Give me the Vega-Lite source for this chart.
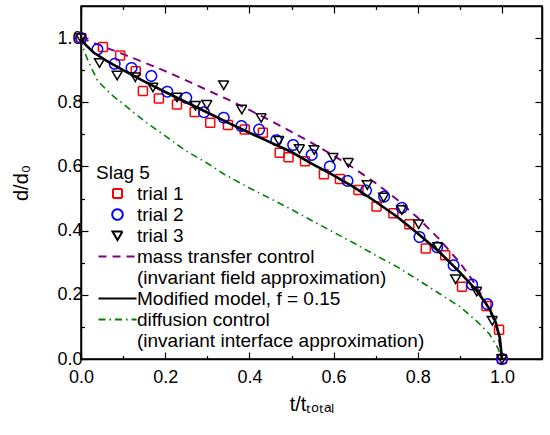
{
  "$schema": "https://vega.github.io/schema/vega-lite/v6.json",
  "width": 461,
  "height": 353,
  "autosize": "none",
  "padding": {"left": 81, "top": 6, "right": 8, "bottom": 76},
  "background": "white",
  "config": {
    "view": {"stroke": "black", "strokeWidth": 1.5},
    "font": "Liberation Sans",
    "axis": {
      "grid": false,
      "domainColor": "black",
      "domainWidth": 1.5,
      "tickColor": "black",
      "tickWidth": 1.2,
      "labelFont": "Liberation Sans",
      "labelFontSize": 18,
      "labelColor": "black",
      "labelFlush": false,
      "titleFont": "Liberation Sans",
      "titleFontSize": 20,
      "titleFontWeight": "normal",
      "titleColor": "black"
    },
    "legend": {
      "padding": 0,
      "titleFontSize": 19,
      "titleFontWeight": "normal",
      "titleColor": "black",
      "titleFont": "Liberation Sans",
      "titlePadding": 1,
      "labelFontSize": 19,
      "labelFont": "Liberation Sans",
      "labelColor": "black",
      "labelLimit": 400,
      "labelOffset": 10,
      "symbolSize": 100,
      "symbolStrokeWidth": 2,
      "symbolOffset": 12,
      "rowPadding": 1
    }
  },
  "datasets": {
    "pts": [
      {"series": "trial 1", "t": 0.0, "d": 1.0},
      {"series": "trial 1", "t": 0.052, "d": 0.972},
      {"series": "trial 1", "t": 0.093, "d": 0.946},
      {"series": "trial 1", "t": 0.13, "d": 0.897},
      {"series": "trial 1", "t": 0.147, "d": 0.835},
      {"series": "trial 1", "t": 0.185, "d": 0.812},
      {"series": "trial 1", "t": 0.228, "d": 0.793},
      {"series": "trial 1", "t": 0.27, "d": 0.77},
      {"series": "trial 1", "t": 0.307, "d": 0.736},
      {"series": "trial 1", "t": 0.349, "d": 0.729},
      {"series": "trial 1", "t": 0.389, "d": 0.715},
      {"series": "trial 1", "t": 0.432, "d": 0.705},
      {"series": "trial 1", "t": 0.472, "d": 0.643},
      {"series": "trial 1", "t": 0.493, "d": 0.629},
      {"series": "trial 1", "t": 0.532, "d": 0.616},
      {"series": "trial 1", "t": 0.577, "d": 0.576},
      {"series": "trial 1", "t": 0.615, "d": 0.561},
      {"series": "trial 1", "t": 0.659, "d": 0.527},
      {"series": "trial 1", "t": 0.702, "d": 0.475},
      {"series": "trial 1", "t": 0.742, "d": 0.454},
      {"series": "trial 1", "t": 0.78, "d": 0.42},
      {"series": "trial 1", "t": 0.819, "d": 0.344},
      {"series": "trial 1", "t": 0.865, "d": 0.323},
      {"series": "trial 1", "t": 0.905, "d": 0.225},
      {"series": "trial 1", "t": 0.963, "d": 0.165},
      {"series": "trial 1", "t": 0.993, "d": 0.091},
      {"series": "trial 1", "t": 1.0, "d": 0.0},
      {"series": "trial 2", "t": 0.0, "d": 1.0},
      {"series": "trial 2", "t": 0.039, "d": 0.965},
      {"series": "trial 2", "t": 0.08, "d": 0.92},
      {"series": "trial 2", "t": 0.12, "d": 0.907},
      {"series": "trial 2", "t": 0.167, "d": 0.882},
      {"series": "trial 2", "t": 0.205, "d": 0.833},
      {"series": "trial 2", "t": 0.25, "d": 0.814},
      {"series": "trial 2", "t": 0.292, "d": 0.769},
      {"series": "trial 2", "t": 0.339, "d": 0.752},
      {"series": "trial 2", "t": 0.381, "d": 0.726},
      {"series": "trial 2", "t": 0.423, "d": 0.715},
      {"series": "trial 2", "t": 0.464, "d": 0.682},
      {"series": "trial 2", "t": 0.504, "d": 0.667},
      {"series": "trial 2", "t": 0.548, "d": 0.636},
      {"series": "trial 2", "t": 0.591, "d": 0.6},
      {"series": "trial 2", "t": 0.633, "d": 0.555},
      {"series": "trial 2", "t": 0.677, "d": 0.525},
      {"series": "trial 2", "t": 0.72, "d": 0.506},
      {"series": "trial 2", "t": 0.762, "d": 0.471},
      {"series": "trial 2", "t": 0.804, "d": 0.38},
      {"series": "trial 2", "t": 0.846, "d": 0.348},
      {"series": "trial 2", "t": 0.885, "d": 0.292},
      {"series": "trial 2", "t": 0.929, "d": 0.232},
      {"series": "trial 2", "t": 0.965, "d": 0.171},
      {"series": "trial 2", "t": 1.0, "d": 0.0},
      {"series": "trial 3", "t": 0.0, "d": 1.0},
      {"series": "trial 3", "t": 0.044, "d": 0.923},
      {"series": "trial 3", "t": 0.086, "d": 0.884},
      {"series": "trial 3", "t": 0.129, "d": 0.879},
      {"series": "trial 3", "t": 0.171, "d": 0.847},
      {"series": "trial 3", "t": 0.228, "d": 0.816},
      {"series": "trial 3", "t": 0.272, "d": 0.79},
      {"series": "trial 3", "t": 0.299, "d": 0.793},
      {"series": "trial 3", "t": 0.339, "d": 0.854},
      {"series": "trial 3", "t": 0.382, "d": 0.778},
      {"series": "trial 3", "t": 0.428, "d": 0.752},
      {"series": "trial 3", "t": 0.47, "d": 0.681},
      {"series": "trial 3", "t": 0.519, "d": 0.655},
      {"series": "trial 3", "t": 0.554, "d": 0.652},
      {"series": "trial 3", "t": 0.599, "d": 0.628},
      {"series": "trial 3", "t": 0.635, "d": 0.612},
      {"series": "trial 3", "t": 0.68, "d": 0.543},
      {"series": "trial 3", "t": 0.719, "d": 0.504},
      {"series": "trial 3", "t": 0.762, "d": 0.465},
      {"series": "trial 3", "t": 0.802, "d": 0.421},
      {"series": "trial 3", "t": 0.848, "d": 0.35},
      {"series": "trial 3", "t": 0.89, "d": 0.249},
      {"series": "trial 3", "t": 0.94, "d": 0.211},
      {"series": "trial 3", "t": 0.977, "d": 0.12},
      {"series": "trial 3", "t": 1.0, "d": 0.0}
    ],
    "curves": [
      {"series": "mass transfer control", "t": 0.0, "d": 1.0},
      {"series": "mass transfer control", "t": 0.05, "d": 0.975},
      {"series": "mass transfer control", "t": 0.1, "d": 0.95},
      {"series": "mass transfer control", "t": 0.15, "d": 0.924},
      {"series": "mass transfer control", "t": 0.2, "d": 0.897},
      {"series": "mass transfer control", "t": 0.25, "d": 0.868},
      {"series": "mass transfer control", "t": 0.3, "d": 0.838},
      {"series": "mass transfer control", "t": 0.35, "d": 0.808},
      {"series": "mass transfer control", "t": 0.4, "d": 0.776},
      {"series": "mass transfer control", "t": 0.45, "d": 0.743},
      {"series": "mass transfer control", "t": 0.5, "d": 0.708},
      {"series": "mass transfer control", "t": 0.55, "d": 0.672},
      {"series": "mass transfer control", "t": 0.6, "d": 0.634},
      {"series": "mass transfer control", "t": 0.65, "d": 0.593},
      {"series": "mass transfer control", "t": 0.7, "d": 0.548},
      {"series": "mass transfer control", "t": 0.75, "d": 0.498},
      {"series": "mass transfer control", "t": 0.8, "d": 0.44},
      {"series": "mass transfer control", "t": 0.85, "d": 0.375},
      {"series": "mass transfer control", "t": 0.9, "d": 0.3},
      {"series": "mass transfer control", "t": 0.93, "d": 0.245},
      {"series": "mass transfer control", "t": 0.96, "d": 0.18},
      {"series": "mass transfer control", "t": 0.98, "d": 0.125},
      {"series": "mass transfer control", "t": 0.99, "d": 0.085},
      {"series": "mass transfer control", "t": 1.0, "d": 0.0},
      {"series": "Modified model, f = 0.15", "t": 0.0, "d": 1.0},
      {"series": "Modified model, f = 0.15", "t": 0.01, "d": 0.98},
      {"series": "Modified model, f = 0.15", "t": 0.03, "d": 0.955},
      {"series": "Modified model, f = 0.15", "t": 0.06, "d": 0.93},
      {"series": "Modified model, f = 0.15", "t": 0.1, "d": 0.9},
      {"series": "Modified model, f = 0.15", "t": 0.15, "d": 0.865},
      {"series": "Modified model, f = 0.15", "t": 0.2, "d": 0.832},
      {"series": "Modified model, f = 0.15", "t": 0.25, "d": 0.8},
      {"series": "Modified model, f = 0.15", "t": 0.3, "d": 0.768},
      {"series": "Modified model, f = 0.15", "t": 0.35, "d": 0.736},
      {"series": "Modified model, f = 0.15", "t": 0.4, "d": 0.705},
      {"series": "Modified model, f = 0.15", "t": 0.45, "d": 0.675},
      {"series": "Modified model, f = 0.15", "t": 0.5, "d": 0.645},
      {"series": "Modified model, f = 0.15", "t": 0.55, "d": 0.607},
      {"series": "Modified model, f = 0.15", "t": 0.6, "d": 0.572},
      {"series": "Modified model, f = 0.15", "t": 0.65, "d": 0.534},
      {"series": "Modified model, f = 0.15", "t": 0.7, "d": 0.49},
      {"series": "Modified model, f = 0.15", "t": 0.75, "d": 0.444},
      {"series": "Modified model, f = 0.15", "t": 0.8, "d": 0.391},
      {"series": "Modified model, f = 0.15", "t": 0.85, "d": 0.335},
      {"series": "Modified model, f = 0.15", "t": 0.9, "d": 0.27},
      {"series": "Modified model, f = 0.15", "t": 0.94, "d": 0.213},
      {"series": "Modified model, f = 0.15", "t": 0.97, "d": 0.157},
      {"series": "Modified model, f = 0.15", "t": 0.985, "d": 0.115},
      {"series": "Modified model, f = 0.15", "t": 0.995, "d": 0.065},
      {"series": "Modified model, f = 0.15", "t": 1.0, "d": 0.0},
      {"series": "diffusion control", "t": 0.0, "d": 1.0},
      {"series": "diffusion control", "t": 0.005, "d": 0.97},
      {"series": "diffusion control", "t": 0.017, "d": 0.928},
      {"series": "diffusion control", "t": 0.04, "d": 0.866},
      {"series": "diffusion control", "t": 0.072, "d": 0.824},
      {"series": "diffusion control", "t": 0.1, "d": 0.795},
      {"series": "diffusion control", "t": 0.151, "d": 0.741},
      {"series": "diffusion control", "t": 0.2, "d": 0.695},
      {"series": "diffusion control", "t": 0.25, "d": 0.648},
      {"series": "diffusion control", "t": 0.3, "d": 0.61},
      {"series": "diffusion control", "t": 0.341, "d": 0.575},
      {"series": "diffusion control", "t": 0.4, "d": 0.533},
      {"series": "diffusion control", "t": 0.45, "d": 0.5},
      {"series": "diffusion control", "t": 0.5, "d": 0.466},
      {"series": "diffusion control", "t": 0.55, "d": 0.43},
      {"series": "diffusion control", "t": 0.6, "d": 0.395},
      {"series": "diffusion control", "t": 0.65, "d": 0.36},
      {"series": "diffusion control", "t": 0.7, "d": 0.323},
      {"series": "diffusion control", "t": 0.75, "d": 0.288},
      {"series": "diffusion control", "t": 0.8, "d": 0.247},
      {"series": "diffusion control", "t": 0.85, "d": 0.205},
      {"series": "diffusion control", "t": 0.9, "d": 0.163},
      {"series": "diffusion control", "t": 0.94, "d": 0.118},
      {"series": "diffusion control", "t": 0.97, "d": 0.078},
      {"series": "diffusion control", "t": 0.99, "d": 0.035},
      {"series": "diffusion control", "t": 1.0, "d": 0.0}
    ]
  },
  "resolve": {"axis": {"x": "independent", "y": "independent"}},
  "layer": [
    {
      "data": {"name": "curves"},
      "transform": [{"filter": "datum.series === 'diffusion control'"}],
      "mark": {"type": "line", "color": "#008000", "strokeWidth": 1.6, "strokeDash": [7, 4, 1.5, 4]},
      "encoding": {
        "x": {"field": "t", "type": "quantitative", "scale": {"domain": [0, 1.095], "nice": false}, "axis": null},
        "y": {"field": "d", "type": "quantitative", "scale": {"domain": [0, 1.1], "nice": false}, "axis": null}
      }
    },
    {
      "data": {"name": "curves"},
      "transform": [{"filter": "datum.series === 'mass transfer control'"}],
      "mark": {"type": "line", "color": "#800080", "strokeWidth": 2, "strokeDash": [8, 6]},
      "encoding": {
        "x": {"field": "t", "type": "quantitative", "axis": null},
        "y": {"field": "d", "type": "quantitative", "axis": null}
      }
    },
    {
      "data": {"name": "pts"},
      "mark": {"type": "point", "filled": false, "size": 100, "strokeWidth": 1.5, "opacity": 1},
      "encoding": {
        "x": {
          "field": "t", "type": "quantitative",
          "axis": {
            "orient": "bottom",
            "title": "t/tₜₒₜₐₗ",
            "values": [0, 0.1, 0.2, 0.3, 0.4, 0.5, 0.6, 0.7, 0.8, 0.9, 1.0],
            "labelExpr": "abs(datum.value*5 - round(datum.value*5)) < 0.001 ? format(datum.value, '.1f') : ''",
            "tickSize": {"condition": {"test": "abs(datum.value*5 - round(datum.value*5)) < 0.001", "value": -7}, "value": -3.5},
            "labelPadding": 16,
            "titlePadding": 8
          }
        },
        "y": {
          "field": "d", "type": "quantitative",
          "axis": {
            "orient": "left",
            "title": "d/d₀",
            "values": [0, 0.1, 0.2, 0.3, 0.4, 0.5, 0.6, 0.7, 0.8, 0.9, 1.0],
            "labelExpr": "abs(datum.value*5 - round(datum.value*5)) < 0.001 ? format(datum.value, '.1f') : ''",
            "tickSize": {"condition": {"test": "abs(datum.value*5 - round(datum.value*5)) < 0.001", "value": -7}, "value": -3.5},
            "labelPadding": 6,
            "titlePadding": 25
          }
        },
        "shape": {
          "field": "series", "type": "nominal", "title": "Slag 5",
          "scale": {
            "domain": ["trial 1", "trial 2", "trial 3", "mass transfer control", " (invariant field approximation)", "Modified model, f = 0.15", "diffusion control", " (invariant interface approximation)"],
            "range": ["M-0.9,-0.9H0.9V0.9H-0.9Z", "M1.05,0A1.05,1.05,0,1,1,-1.05,0A1.05,1.05,0,1,1,1.05,0Z", "M-1,-0.8H1L0,0.9Z", "M-3.8,0H3.8", "circle", "M-3.8,0H3.8", "M-3.8,0H3.8", "circle"]
          },
          "legend": {"orient": "none", "legendX": 15, "legendY": 158}
        },
        "color": {
          "field": "series", "type": "nominal", "title": "Slag 5",
          "scale": {
            "domain": ["trial 1", "trial 2", "trial 3", "mass transfer control", " (invariant field approximation)", "Modified model, f = 0.15", "diffusion control", " (invariant interface approximation)"],
            "range": ["#ff0000", "#0000ff", "#000000", "#800080", "transparent", "#000000", "#008000", "transparent"]
          },
          "legend": {"orient": "none", "legendX": 15, "legendY": 158}
        },
        "strokeDash": {
          "field": "series", "type": "nominal", "title": "Slag 5",
          "scale": {
            "domain": ["trial 1", "trial 2", "trial 3", "mass transfer control", " (invariant field approximation)", "Modified model, f = 0.15", "diffusion control", " (invariant interface approximation)"],
            "range": [[1, 0], [1, 0], [1, 0], [8, 6], [1, 0], [1, 0], [7, 4, 1.5, 4], [1, 0]]
          },
          "legend": {"orient": "none", "legendX": 15, "legendY": 158}
        }
      }
    },
    {
      "data": {"name": "curves"},
      "transform": [{"filter": "datum.series === 'Modified model, f = 0.15'"}],
      "mark": {"type": "line", "color": "#000000", "strokeWidth": 2.6},
      "encoding": {
        "x": {
          "field": "t", "type": "quantitative",
          "axis": {
            "orient": "top", "title": null, "labels": false,
            "values": [0, 0.1, 0.2, 0.3, 0.4, 0.5, 0.6, 0.7, 0.8, 0.9, 1.0],
            "tickSize": {"condition": {"test": "abs(datum.value*5 - round(datum.value*5)) < 0.001", "value": -7}, "value": -3.5}
          }
        },
        "y": {
          "field": "d", "type": "quantitative",
          "axis": {
            "orient": "right", "title": null, "labels": false,
            "values": [0, 0.1, 0.2, 0.3, 0.4, 0.5, 0.6, 0.7, 0.8, 0.9, 1.0],
            "tickSize": {"condition": {"test": "abs(datum.value*5 - round(datum.value*5)) < 0.001", "value": -7}, "value": -3.5}
          }
        }
      }
    }
  ]
}
